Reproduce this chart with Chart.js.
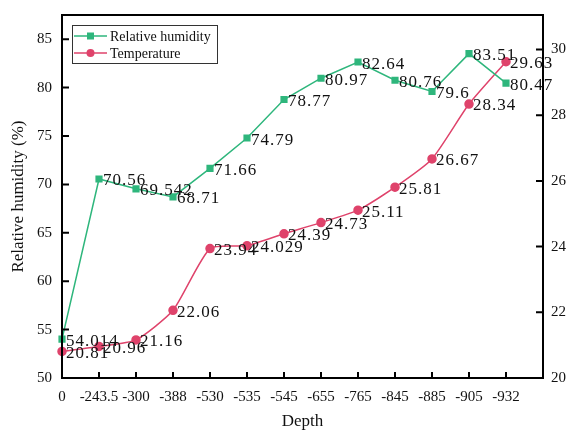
<!DOCTYPE html>
<html>
<head>
<meta charset="utf-8">
<script src="https://cdn.jsdelivr.net/npm/chart.js@4"></script>
<style>
  body { margin: 0; background: #fff; }
  #wrap { width: 573px; height: 432px; position: relative; }
</style>
</head>
<body>
<div id="wrap"><canvas id="chart"></canvas></div>
<script>
// depths along the x axis
let depths = ['0', '-243.5', '-300', '-388', '-530', '-535', '-545', '-655', '-765', '-845', '-885', '-905', '-932'];
let humidity = [54.014, 70.56, 69.542, 68.71, 71.66, 74.79, 78.77, 80.97, 82.64, 80.76, 79.6, 83.51, 80.47];
let temperature = [20.81, 20.96, 21.16, 22.06, 23.94, 24.029, 24.39, 24.73, 25.11, 25.81, 26.67, 28.34, 29.63];
let humTicks = [50, 55, 60, 65, 70, 75, 80, 85];
let tempTicks = [20, 22, 24, 26, 28, 30];

const green = '#2eb67c';
const pink = '#df436b';
const serif = '"Liberation Serif", "Times New Roman", serif';

// frame, inward ticks, value labels and legend
const extras = {
  id: 'extras',
  afterDatasetsDraw(chart) {
    const ctx = chart.ctx;
    const a = chart.chartArea;
    const x = chart.scales.x, yl = chart.scales.y, yr = chart.scales.y2;
    ctx.save();
    ctx.strokeStyle = '#000';
    ctx.lineWidth = 2;
    ctx.strokeRect(a.left, a.top, a.right - a.left, a.bottom - a.top);
    ctx.beginPath();
    for (let i = 0; i < depths.length; i++) {
      let px = x.getPixelForValue(i);
      ctx.moveTo(px, a.bottom); ctx.lineTo(px, a.bottom - 6);
    }
    humTicks.forEach(v => { let py = yl.getPixelForValue(v); ctx.moveTo(a.left, py); ctx.lineTo(a.left + 7, py); });
    tempTicks.forEach(v => { let py = yr.getPixelForValue(v); ctx.moveTo(a.right, py); ctx.lineTo(a.right - 7, py); });
    ctx.stroke();

    // point value labels
    ctx.fillStyle = '#111';
    ctx.font = '17px ' + serif;
    ctx.letterSpacing = '1px';
    ctx.textBaseline = 'middle';
    ctx.textAlign = 'left';
    chart.data.datasets.forEach((ds, di) => {
      chart.getDatasetMeta(di).data.forEach((pt, i) => {
        ctx.fillText(String(ds.data[i]), pt.x + 4, pt.y + 2);
      });
    });
    ctx.letterSpacing = '0px';

    // legend box
    const lx = 72, ly = 25, lw = 145, lh = 38;
    ctx.fillStyle = '#fff';
    ctx.fillRect(lx, ly, lw, lh);
    ctx.strokeStyle = '#333';
    ctx.lineWidth = 1;
    ctx.strokeRect(lx + 0.5, ly + 0.5, lw, lh);
    const items = [[chart.data.datasets[0], 'rect', 11], [chart.data.datasets[1], 'circle', 28]];
    ctx.font = '14px ' + serif;
    items.forEach(([ds, shape, oy]) => {
      let cy = ly + oy;
      ctx.strokeStyle = ds.borderColor;
      ctx.lineWidth = 1.5;
      ctx.beginPath(); ctx.moveTo(lx + 2, cy); ctx.lineTo(lx + 35, cy); ctx.stroke();
      ctx.fillStyle = ds.borderColor;
      if (shape === 'rect') ctx.fillRect(lx + 15, cy - 3.5, 7, 7);
      else { ctx.beginPath(); ctx.arc(lx + 18.5, cy, 4, 0, Math.PI * 2); ctx.fill(); }
      ctx.fillStyle = '#111';
      ctx.fillText(ds.label, lx + 38, cy + 1);
    });
    ctx.restore();
  }
};

new Chart(document.getElementById('chart'), {
  type: 'line',
  data: {
    labels: depths.concat(['']),
    datasets: [
      {
        label: 'Relative humidity',
        data: humidity,
        yAxisID: 'y',
        borderColor: green,
        backgroundColor: green,
        borderWidth: 1.5,
        pointStyle: 'rect',
        pointRadius: 4,
        fill: false,
        tension: 0
      },
      {
        label: 'Temperature',
        data: temperature,
        yAxisID: 'y2',
        borderColor: pink,
        backgroundColor: pink,
        borderWidth: 1.5,
        pointStyle: 'circle',
        pointRadius: 4,
        fill: false,
        tension: 0.2
      }
    ]
  },
  options: {
    responsive: true,
    maintainAspectRatio: false,
    animation: false,
    layout: { padding: { top: 15, left: 0, right: 0, bottom: 0 } },
    plugins: { legend: { display: false }, tooltip: { enabled: false } },
    scales: {
      x: {
        offset: false,
        grid: { display: false },
        border: { display: false },
        ticks: {
          color: '#111', font: { family: serif, size: 15 }, padding: 2,
          maxRotation: 0, autoSkip: false
        },
        title: { display: true, text: 'Depth', color: '#111', font: { family: serif, size: 17 }, padding: { top: 0, bottom: 0 } },
        afterFit(s) { s.height = 54; }
      },
      y: {
        position: 'left',
        min: 50, max: 87.5,
        grid: { display: false },
        border: { display: false },
        afterBuildTicks(s) { s.ticks = humTicks.map(v => ({ value: v })); },
        ticks: { color: '#111', font: { family: serif, size: 15 }, padding: 2 },
        title: { display: true, text: 'Relative humidity (%)', color: '#111', font: { family: serif, size: 17 }, padding: { top: 8, bottom: 0 } },
        afterFit(s) { s.width = 62; }
      },
      y2: {
        position: 'right',
        min: 20, max: 31.05,
        grid: { display: false },
        border: { display: false },
        afterBuildTicks(s) { s.ticks = tempTicks.map(v => ({ value: v })); },
        ticks: { color: '#111', font: { family: serif, size: 15 }, padding: 0 },
        afterFit(s) { s.width = 30; }
      }
    }
  },
  plugins: [extras]
});
</script>
</body>
</html>
